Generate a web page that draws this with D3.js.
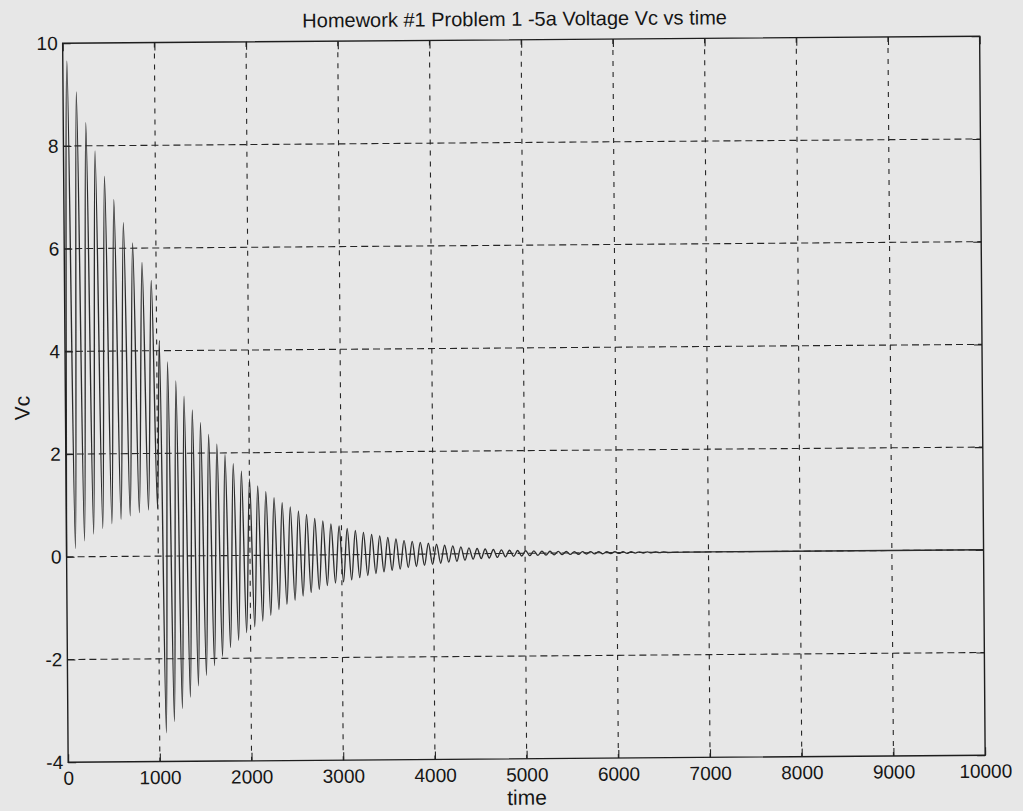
<!DOCTYPE html>
<html>
<head>
<meta charset="utf-8">
<script src="https://cdn.jsdelivr.net/npm/d3@7"></script>
<style>
  html, body { margin: 0; padding: 0; background: #e7e7e7; }
  svg { display: block; }
  text { font-family: "Liberation Sans", Arial, Helvetica, sans-serif; fill: #161616; }
</style>
</head>
<body>
<svg id="chart" width="1023" height="811"></svg>
<script>
// Capacitor voltage: charging interval (0-1000), then the switched ringing decay.
// Each entry is a local extreme of the waveform (time, Vc).
const chargeTimes = [0, 45, 97, 145, 197, 246, 297, 344, 397, 445, 497, 545, 597, 647, 697, 746, 797, 847, 897, 946, 996];
const chargeVc = [0, 9.65, 0.16, 9.05, 0.31, 8.45, 0.44, 7.9, 0.55, 7.4, 0.64, 6.95, 0.72, 6.5, 0.79, 6.1, 0.85, 5.72, 0.9, 5.37, 0.93];

const ringTimes = [1029, 1073, 1117, 1162, 1206, 1250, 1294, 1338, 1383, 1427, 1471, 1515, 1559, 1604, 1648, 1692,
  1736, 1780, 1825, 1869, 1913, 1957, 2001, 2046, 2090, 2134, 2178, 2222, 2267, 2311, 2355, 2399, 2443, 2488,
  2532, 2576, 2620, 2664, 2709, 2753, 2797, 2841, 2885, 2930];
const ringVc = [4.2, -3.44, 3.78, -3.22, 3.41, -2.97, 3.11, -2.75, 2.84, -2.53, 2.59, -2.33, 2.36, -2.14, 2.17, -1.96,
  1.97, -1.79, 1.79, -1.65, 1.64, -1.50, 1.49, -1.39, 1.35, -1.28, 1.24, -1.17, 1.12, -1.06, 1.02, -0.96, 0.94, -0.88,
  0.86, -0.80, 0.79, -0.73, 0.71, -0.67, 0.66, -0.60, 0.60, -0.55];

const tailTimes = [2974, 3018, 3062, 3107, 3151, 3195, 3239, 3283, 3328, 3372, 3416, 3460, 3504, 3549, 3593, 3637,
  3681, 3725, 3770, 3814, 3858, 3902, 3946, 3991, 4035, 4079, 4123, 4167, 4212, 4256, 4300, 4344, 4388, 4433, 4477,
  4521, 4565, 4609, 4654, 4698, 4742, 4786, 4830, 4875, 4919, 4963, 5007, 5051, 5096, 5140, 5184, 5228, 5272, 5317,
  5361, 5405, 5449, 5493, 5538, 5582, 5626, 5670, 5714, 5759, 5803, 5847, 5891, 5935, 5980, 6024, 6068, 6112, 6156,
  6201, 6245, 6289, 6333, 6377, 6422, 6466, 6510, 6554, 7000, 10000];
const tailVc = [0.56, -0.53, 0.51, -0.49, 0.47, -0.45, 0.43, -0.41, 0.39, -0.37,
  0.36, -0.34, 0.33, -0.31, 0.30, -0.29, 0.27, -0.26, 0.25, -0.24,
  0.23, -0.22, 0.21, -0.20, 0.19, -0.18, 0.17, -0.16, 0.155, -0.145,
  0.135, -0.125, 0.115, -0.105, 0.10, -0.095, 0.09, -0.085, 0.08, -0.075,
  0.07, -0.065, 0.062, -0.058, 0.055, -0.052, 0.05, -0.047, 0.045, -0.042,
  0.04, -0.038, 0.036, -0.034, 0.033, -0.031, 0.03, -0.028, 0.027, -0.026,
  0.025, -0.024, 0.023, -0.022, 0.021, -0.02, 0.019, -0.018, 0.017, -0.016,
  0.016, -0.015, 0.014, -0.013, 0.012, -0.011, 0.01, -0.009, 0.008, -0.007,
  0.006, -0.005, 0, 0];

const xTicks = [0, 1000, 2000, 3000, 4000, 5000, 6000, 7000, 8000, 9000, 10000];
const yTicks = [-4, -2, 0, 2, 4, 6, 8, 10];

const titleText = "Homework #1 Problem 1 -5a Voltage Vc vs time";
const xLabel = "time";
const yLabel = "Vc";

// ---- layout ----
const W = 1023, H = 811;
const box = { left: 65.4, right: 982.4, top: 39.75, bottom: 758.75 };
const cx = (box.left + box.right) / 2, cy = (box.top + box.bottom) / 2;

const svg = d3.select("#chart");
svg.append("rect").attr("width", W).attr("height", H).attr("fill", "#e7e7e7");

// the printed sheet sits slightly askew
const g = svg.append("g").attr("transform", `rotate(-0.44 ${cx} ${cy})`);

const x = d3.scaleLinear().domain([0, 10000]).range([box.left, box.right]);
const y = d3.scaleLinear().domain([-4, 10]).range([box.bottom, box.top]);

// plain ASCII hyphen for negative tick values
const plainNum = d => String(d);

// grid
const grid = g.append("g").attr("stroke", "#262626").attr("stroke-width", 1.1).attr("fill", "none");
grid.selectAll("line.v").data(xTicks.slice(1, -1)).join("line")
  .attr("class", "v")
  .attr("x1", d => x(d)).attr("x2", d => x(d))
  .attr("y1", box.top).attr("y2", box.bottom)
  .attr("stroke-dasharray", "5,6");
grid.selectAll("line.h").data(yTicks.slice(1, -1)).join("line")
  .attr("class", "h")
  .attr("x1", box.left).attr("x2", box.right)
  .attr("y1", d => y(d)).attr("y2", d => y(d))
  .attr("stroke-dasharray", "7,4");

// waveform
const pts = [];
chargeTimes.forEach((t, i) => pts.push([t, chargeVc[i]]));
ringTimes.forEach((t, i) => pts.push([t, ringVc[i]]));
tailTimes.forEach((t, i) => pts.push([t, tailVc[i]]));

const line = d3.line()
  .x(d => x(d[0]))
  .y(d => y(d[1]))
  .curve(d3.curveMonotoneX);

g.append("path")
  .datum(pts)
  .attr("d", line)
  .attr("fill", "none")
  .attr("stroke", "#2c2c2c")
  .attr("stroke-width", 1.35)
  .attr("stroke-linejoin", "round");

// axes with inward ticks
const fontSize = 19;
const axB = g.append("g").attr("transform", `translate(0,${box.bottom})`)
  .call(d3.axisBottom(x).tickValues(xTicks).tickFormat(plainNum).tickSizeInner(-8).tickSizeOuter(0).tickPadding(9));
const axL = g.append("g").attr("transform", `translate(${box.left},0)`)
  .call(d3.axisLeft(y).tickValues(yTicks).tickFormat(plainNum).tickSizeInner(-8).tickSizeOuter(0).tickPadding(5));
const axT = g.append("g").attr("transform", `translate(0,${box.top})`)
  .call(d3.axisTop(x).tickValues(xTicks).tickFormat("").tickSizeInner(-8).tickSizeOuter(0));
const axR = g.append("g").attr("transform", `translate(${box.right},0)`)
  .call(d3.axisRight(y).tickValues(yTicks).tickFormat("").tickSizeInner(-8).tickSizeOuter(0));

[axB, axL, axT, axR].forEach(a => {
  a.select(".domain").remove();
  a.selectAll(".tick line").attr("stroke", "#222").attr("stroke-width", 1.1);
  a.selectAll("text").attr("font-size", fontSize).attr("fill", "#161616")
    .attr("font-family", "'Liberation Sans', Arial, sans-serif");
});

// frame
g.append("rect")
  .attr("x", box.left).attr("y", box.top)
  .attr("width", box.right - box.left).attr("height", box.bottom - box.top)
  .attr("fill", "none").attr("stroke", "#1e1e1e").attr("stroke-width", 1.4);

// labels
g.append("text")
  .attr("x", 517.5).attr("y", box.top - 14)
  .attr("text-anchor", "middle")
  .attr("font-size", 20)
  .text(titleText);

g.append("text")
  .attr("x", (box.left + box.right) / 2).attr("y", box.bottom + 46)
  .attr("text-anchor", "middle")
  .attr("font-size", 21)
  .text(xLabel);

g.append("text")
  .attr("transform", `translate(${box.left - 36},${(box.top + box.bottom) / 2 + 5}) rotate(-90)`)
  .attr("text-anchor", "middle")
  .attr("font-size", 21)
  .text(yLabel);
</script>
</body>
</html>
